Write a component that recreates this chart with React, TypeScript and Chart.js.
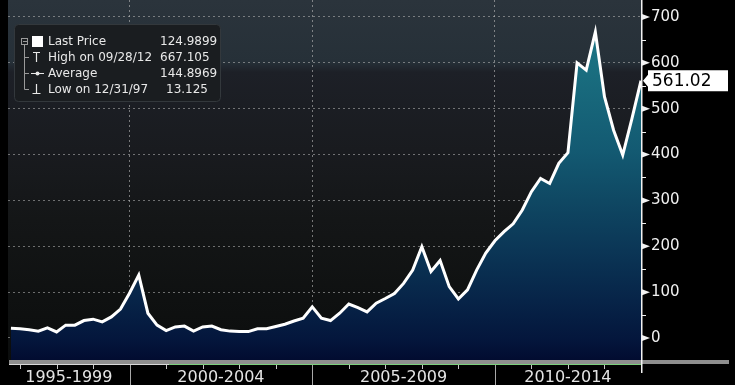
import { useEffect, useRef } from "react";
import { Chart, registerables } from "chart.js";

Chart.register(...registerables);

// Quarter-end observations
const quarters = [
  "1996Q3", "1996Q4",
  "1997Q1", "1997Q2", "1997Q3", "1997Q4",
  "1998Q1", "1998Q2", "1998Q3", "1998Q4",
  "1999Q1", "1999Q2", "1999Q3", "1999Q4",
  "2000Q1", "2000Q2", "2000Q3", "2000Q4",
  "2001Q1", "2001Q2", "2001Q3", "2001Q4",
  "2002Q1", "2002Q2", "2002Q3", "2002Q4",
  "2003Q1", "2003Q2", "2003Q3", "2003Q4",
  "2004Q1", "2004Q2", "2004Q3", "2004Q4",
  "2005Q1", "2005Q2", "2005Q3", "2005Q4",
  "2006Q1", "2006Q2", "2006Q3", "2006Q4",
  "2007Q1", "2007Q2", "2007Q3", "2007Q4",
  "2008Q1", "2008Q2", "2008Q3", "2008Q4",
  "2009Q1", "2009Q2", "2009Q3", "2009Q4",
  "2010Q1", "2010Q2", "2010Q3", "2010Q4",
  "2011Q1", "2011Q2", "2011Q3", "2011Q4",
  "2012Q1", "2012Q2", "2012Q3", "2012Q4",
  "2013Q1", "2013Q2", "2013Q3", "2013Q4",
];

const prices = [
  21, 20,
  18, 15, 22, 13.125,
  28, 28, 38, 41,
  35, 46, 63, 98,
  137, 54, 28, 16,
  24, 26, 15, 24,
  26, 18, 15, 14,
  14, 20, 20, 25,
  30, 37, 43, 68,
  43, 38, 54, 74,
  66, 57, 76, 86,
  97, 119, 148, 199,
  145, 169, 112, 85,
  105, 148, 185, 212,
  232, 249, 279, 319,
  348, 337, 381, 404,
  600, 584, 667.105, 526,
  453, 399, 478, 561.02,
];

const periodLabels = ["1995-1999", "2000-2004", "2005-2009", "2010-2014"];
const periodStarts = [1995, 2000, 2005, 2010];
const periodEnds = [2000, 2005, 2010, 2015];

const yTickValues = [0, 100, 200, 300, 400, 500, 600, 700];
const yMinorValues = [50, 150, 250, 350, 450, 550, 650];

const legendLabels = ["Last Price", "High on 09/28/12", "Average", "Low on 12/31/97"];
const legendValues = ["124.9899", "667.105", "144.8969", "13.125"];
const lastPriceText = "561.02";

const X_MIN = 1996.67;
const X_MAX = 2014.0;

function quarterToYear(q: string): number {
  const year = parseInt(q.slice(0, 4), 10);
  const qn = parseInt(q.slice(5), 10);
  return year + qn / 4;
}

const FONT = "'DejaVu Sans', sans-serif";

export default function App() {
  const canvasRef = useRef<HTMLCanvasElement | null>(null);

  useEffect(() => {
    const canvas = canvasRef.current;
    if (!canvas) return;

    const points = quarters.map((q, i) => ({ x: quarterToYear(q), y: prices[i] }));

    const centers = periodStarts.map((s, i) => (Math.max(s, X_MIN) + Math.min(periodEnds[i], X_MAX)) / 2);
    const boundaries = periodStarts.filter((s) => s > X_MIN && s < X_MAX);
    const labelByValue = new Map<number, string>();
    centers.forEach((c, i) => labelByValue.set(c, periodLabels[i]));

    const decorPlugin = {
      id: "decor",
      beforeDraw(chart: any) {
        const { ctx, chartArea: a, width, height } = chart;
        ctx.save();
        ctx.fillStyle = "#000";
        ctx.fillRect(0, 0, width, height);
        const h = a.bottom - a.top;
        const g = ctx.createLinearGradient(0, a.top, 0, a.bottom);
        g.addColorStop(0, "#2b343c");
        g.addColorStop(62 / h, "#263038");
        g.addColorStop(72 / h, "#1d2027");
        g.addColorStop(150 / h, "#191b1f");
        g.addColorStop(220 / h, "#141617");
        g.addColorStop(300 / h, "#0f1111");
        g.addColorStop(1, "#0b0d0d");
        ctx.fillStyle = g;
        ctx.fillRect(a.left, a.top, a.right - a.left, h);
        ctx.restore();
      },
      afterDraw(chart: any) {
        const { ctx, chartArea: a } = chart;
        const xs = chart.scales.x;
        const ys = chart.scales.y;
        ctx.save();

        // bottom bar
        ctx.fillStyle = "#8e8e8e";
        ctx.fillRect(a.left + 1, a.bottom, 728 - a.left, 4);
        ctx.fillStyle = "#d8d8d8";
        ctx.fillRect(a.left + 1, a.bottom + 4, 160, 1);
        ctx.fillStyle = "#7ccf7c";
        ctx.fillRect(a.left + 161, a.bottom + 4, a.right - a.left - 161, 1);

        // year ticks and period separators
        for (let yr = Math.ceil(X_MIN); yr <= Math.floor(X_MAX); yr++) {
          const px = Math.round(xs.getPixelForValue(yr)) + 0.5;
          if (periodStarts.includes(yr)) {
            ctx.strokeStyle = "#a8a8a8";
            ctx.lineWidth = 1;
            ctx.beginPath();
            ctx.moveTo(px, a.bottom + 5);
            ctx.lineTo(px, chart.height);
            ctx.stroke();
          } else if (yr < X_MAX) {
            ctx.strokeStyle = "#c8c8c8";
            ctx.lineWidth = 1;
            ctx.beginPath();
            ctx.moveTo(px, a.bottom + 5);
            ctx.lineTo(px, a.bottom + 9);
            ctx.stroke();
          }
        }

        // right axis line
        ctx.strokeStyle = "#f2f2f2";
        ctx.lineWidth = 1.5;
        ctx.beginPath();
        ctx.moveTo(a.right + 0.75, a.top);
        ctx.lineTo(a.right + 0.75, a.bottom + 13);
        ctx.stroke();

        // y tick triangles
        ctx.fillStyle = "#f2f2f2";
        yTickValues.forEach((v) => {
          const py = ys.getPixelForValue(v);
          ctx.beginPath();
          ctx.moveTo(a.right + 1, py - 3);
          ctx.lineTo(a.right + 9, py);
          ctx.lineTo(a.right + 1, py + 3);
          ctx.closePath();
          ctx.fill();
        });
        ctx.strokeStyle = "#f2f2f2";
        ctx.lineWidth = 1;
        yMinorValues.forEach((v) => {
          const py = Math.round(ys.getPixelForValue(v)) + 0.5;
          ctx.beginPath();
          ctx.moveTo(a.right + 1, py);
          ctx.lineTo(a.right + 5, py);
          ctx.stroke();
        });

        // last price label
        const lastVal = prices[prices.length - 1];
        const py = ys.getPixelForValue(lastVal);
        ctx.fillStyle = "#ffffff";
        ctx.beginPath();
        ctx.moveTo(a.right + 2, py);
        ctx.lineTo(a.right + 7, py - 6);
        ctx.lineTo(a.right + 7, py - 10.5);
        ctx.lineTo(728, py - 10.5);
        ctx.lineTo(728, py + 10.5);
        ctx.lineTo(a.right + 7, py + 10.5);
        ctx.lineTo(a.right + 7, py + 6);
        ctx.closePath();
        ctx.fill();
        ctx.fillStyle = "#000";
        ctx.font = `17px ${FONT}`;
        ctx.textBaseline = "middle";
        ctx.textAlign = "left";
        ctx.fillText(lastPriceText, a.right + 11, py + 1);

        // legend box
        const bx = 14, by = 24, bw = 206, bh = 77;
        ctx.fillStyle = "#1a1d20";
        ctx.strokeStyle = "#33383c";
        ctx.lineWidth = 1;
        ctx.beginPath();
        ctx.roundRect(bx + 0.5, by + 0.5, bw, bh, 4);
        ctx.fill();
        ctx.stroke();

        const rows = [41.5, 57.5, 73.5, 89.5];
        // tree
        ctx.strokeStyle = "#9a9a9a";
        ctx.lineWidth = 1;
        ctx.strokeRect(21.5, 38.5, 6, 6);
        ctx.beginPath();
        ctx.moveTo(23, 41.5);
        ctx.lineTo(27, 41.5);
        ctx.moveTo(24.5, 45);
        ctx.lineTo(24.5, rows[3]);
        for (let i = 1; i < 4; i++) {
          ctx.moveTo(24.5, rows[i]);
          ctx.lineTo(29, rows[i]);
        }
        ctx.stroke();

        // icons
        ctx.fillStyle = "#ffffff";
        ctx.fillRect(32, 36, 11, 11);
        ctx.strokeStyle = "#e8e8e8";
        ctx.lineWidth = 1.2;
        ctx.beginPath();
        ctx.moveTo(33, 52.5);
        ctx.lineTo(40, 52.5);
        ctx.moveTo(36.5, 52.5);
        ctx.lineTo(36.5, 62);
        ctx.moveTo(31, 73.5);
        ctx.lineTo(44, 73.5);
        ctx.moveTo(36.5, 84);
        ctx.lineTo(36.5, 93.5);
        ctx.moveTo(32.5, 93.5);
        ctx.lineTo(40.5, 93.5);
        ctx.stroke();
        ctx.beginPath();
        ctx.arc(37.5, 73.5, 2, 0, Math.PI * 2);
        ctx.fillStyle = "#e8e8e8";
        ctx.fill();

        ctx.font = `12px ${FONT}`;
        ctx.fillStyle = "#e8e8e8";
        ctx.textBaseline = "middle";
        legendLabels.forEach((t, i) => {
          ctx.fillText(t, 48, rows[i]);
        });
        legendValues.forEach((t, i) => {
          ctx.fillText(t, i === 3 ? 166 : 160, rows[i]);
        });

        ctx.restore();
      },
    };

    const chart = new Chart(canvas, {
      type: "line",
      data: {
        datasets: [
          {
            data: points,
            borderColor: "#ffffff",
            borderWidth: 3,
            pointRadius: 0,
            tension: 0,
            fill: "start",
            backgroundColor: (c: any) => {
              const ch = c.chart;
              const a = ch.chartArea;
              if (!a) return "#0a2a55";
              const h = a.bottom - a.top;
              const g = ch.ctx.createLinearGradient(0, a.top, 0, a.bottom);
              g.addColorStop(0, "#1d7888");
              g.addColorStop(65 / h, "#1a6f80");
              g.addColorStop(150 / h, "#135a72");
              g.addColorStop(200 / h, "#0f4863");
              g.addColorStop(250 / h, "#0b3656");
              g.addColorStop(300 / h, "#072448");
              g.addColorStop(340 / h, "#04163c");
              g.addColorStop(1, "#020c30");
              return g;
            },
          },
        ],
      },
      options: {
        animation: false,
        responsive: false,
        devicePixelRatio: 1,
        layout: { padding: { left: 8, right: 0, top: 0, bottom: 0 } },
        plugins: { legend: { display: false }, tooltip: { enabled: false } },
        scales: {
          x: {
            type: "linear",
            position: "bottom",
            min: X_MIN,
            max: X_MAX,
            z: 1,
            afterBuildTicks: (scale: any) => {
              const vals = [...centers, ...boundaries].sort((p, q) => p - q);
              scale.ticks = vals.map((v) => ({ value: v }));
            },
            afterFit: (scale: any) => {
              scale.height = 25;
              scale.paddingLeft = 0;
              scale.paddingRight = 0;
            },
            grid: {
              drawTicks: false,
              color: (ctx: any) =>
                ctx.tick && boundaries.includes(ctx.tick.value) ? "rgba(185,185,185,0.6)" : "rgba(0,0,0,0)",
              lineWidth: 1,
            },
            border: { display: false, dash: [2, 3] },
            ticks: {
              autoSkip: false,
              maxRotation: 0,
              padding: 8,
              color: "#e4e4e4",
              font: { family: FONT, size: 16 },
              callback: (v: any) => labelByValue.get(Number(v)) ?? "",
            },
          },
          y: {
            type: "linear",
            position: "right",
            min: -48,
            max: 737,
            z: 1,
            afterBuildTicks: (scale: any) => {
              scale.ticks = yTickValues.map((v) => ({ value: v }));
            },
            afterFit: (scale: any) => {
              scale.width = 94;
              scale.paddingTop = 0;
              scale.paddingBottom = 0;
            },
            grid: {
              drawTicks: false,
              color: "rgba(185,185,185,0.55)",
              lineWidth: 1,
            },
            border: { display: false, dash: [2, 3] },
            ticks: {
              padding: 10,
              color: "#f0f0f0",
              font: { family: FONT, size: 15 },
              callback: (v: any) => String(v),
            },
          },
        },
      },
      plugins: [decorPlugin],
    } as any);

    return () => chart.destroy();
  }, []);

  return (
    <div style={{ position: "fixed", left: 0, top: 0, width: 735, height: 385, background: "#000" }}>
      <canvas ref={canvasRef} width={735} height={385} style={{ display: "block" }} />
    </div>
  );
}
